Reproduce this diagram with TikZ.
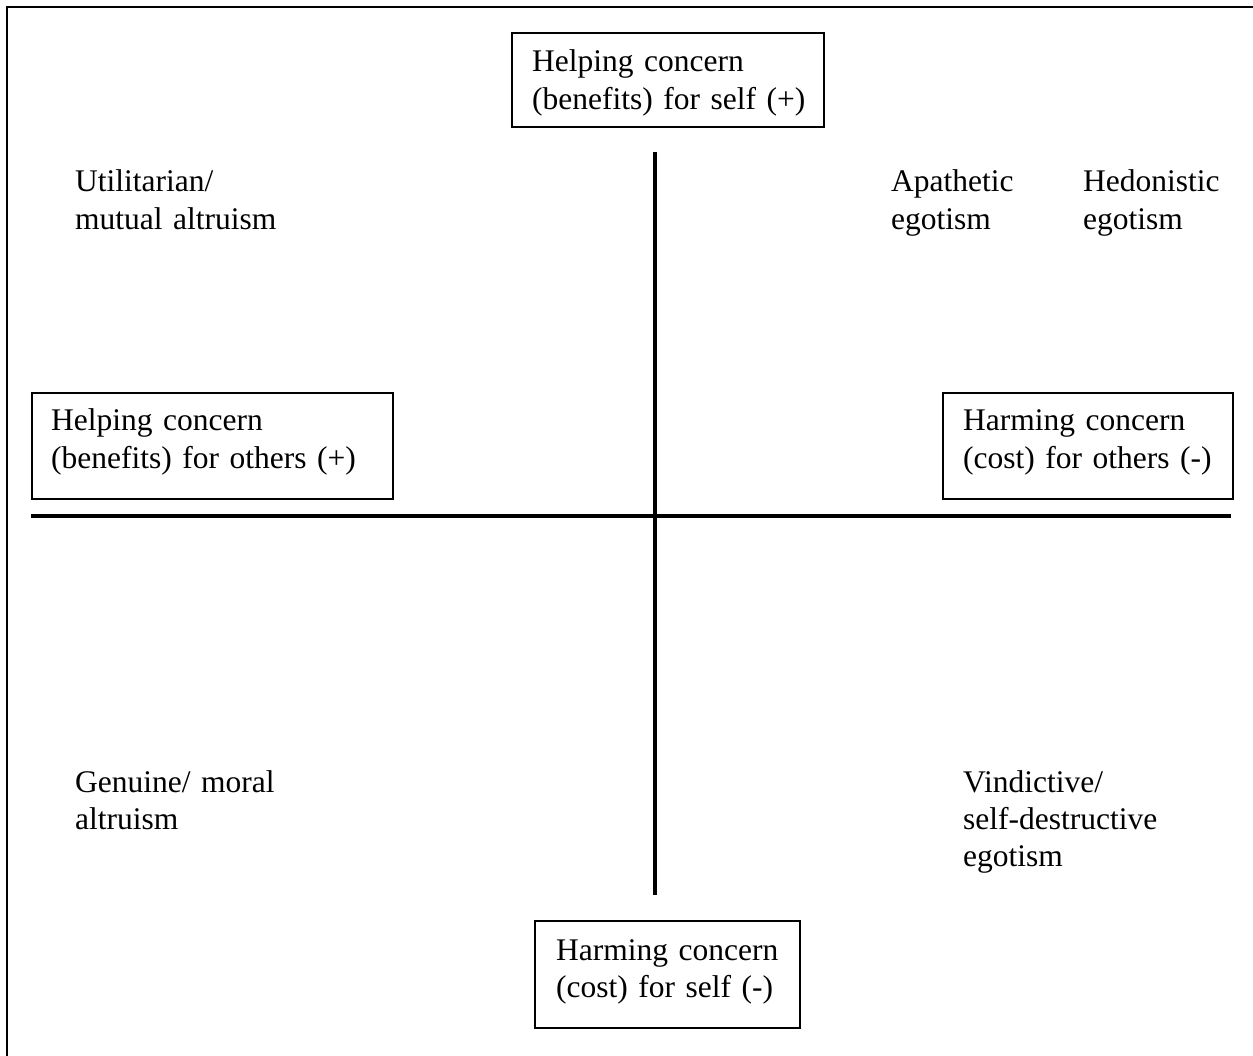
\documentclass[tikz,border=0pt]{standalone}
\usepackage{fontspec}
\setmainfont{Liberation Serif}
\begin{document}
\begin{tikzpicture}[x=1pt,y=-1pt,
  txt/.style={font=\fontsize{31.5}{37.4}\selectfont},
  conceptbox/.style={draw,line width=2pt,anchor=north west,inner sep=0pt},
  label/.style={txt,inner sep=0pt,anchor=base west,align=left,text width=400pt},
  axis/.style={line width=4pt},
  frame/.style={line width=2.2pt}]
  % page area
  \useasboundingbox (0,0) rectangle (1253,1056);
  % outer frame (top and left edges)
  \coordinate (fr-tr) at (1253,7);
  \coordinate (fr-tl) at (7,7);
  \coordinate (fr-bl) at (7,1056);
  \draw[frame] (fr-tr) -- (fr-tl) -- (fr-bl);

  % axes
  \coordinate (ax-top) at (655,152);
  \coordinate (ax-bot) at (655,895);
  \coordinate (ax-left) at (31,516);
  \coordinate (ax-right) at (1231,516);
  \draw[axis] (ax-top) -- (ax-bot);
  \draw[axis] (ax-left) -- (ax-right);

  % concern boxes at the ends of the axes
  \node[conceptbox,minimum width=312pt,minimum height=94pt] (selfplus) at (511,32) {};
  \node[label] (selfplus-t) at (532,72) {Helping concern\\(benefits) for self (+)};

  \node[conceptbox,minimum width=361pt,minimum height=106pt] (othersplus) at (31,392) {};
  \node[label] (othersplus-t) at (51,431) {Helping concern\\(benefits) for others (+)};

  \node[conceptbox,minimum width=290pt,minimum height=106pt] (othersminus) at (942,392) {};
  \node[label] (othersminus-t) at (963,431) {Harming concern\\(cost) for others (-)};

  \node[conceptbox,minimum width=265pt,minimum height=107pt] (selfminus) at (534,920) {};
  \node[label] (selfminus-t) at (556,960) {Harming concern\\(cost) for self (-)};

  % quadrant labels
  \node[label] (utilitarian) at (75,192) {Utilitarian/\\mutual altruism};
  \node[label] (apathetic) at (891,192) {Apathetic\\egotism};
  \node[label] (hedonistic) at (1083,192) {Hedonistic\\egotism};
  \node[label] (genuine) at (75,792) {Genuine/ moral\\altruism};
  \node[label] (vindictive) at (963,792) {Vindictive/\\self-destructive\\egotism};
\end{tikzpicture}
\end{document}
